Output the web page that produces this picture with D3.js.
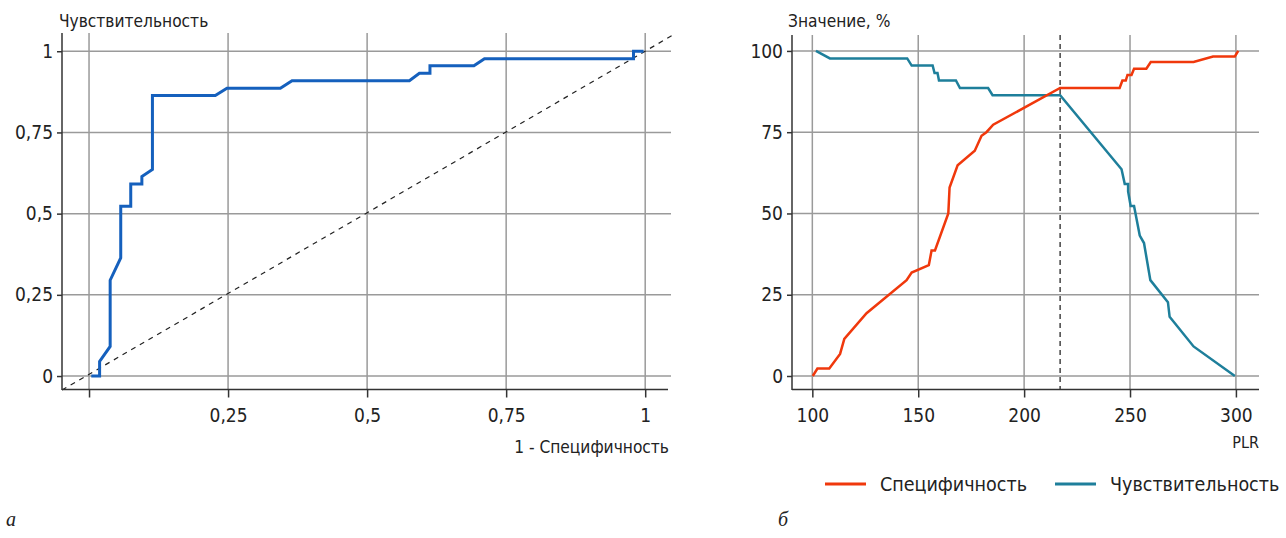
<!DOCTYPE html>
<html><head><meta charset="utf-8">
<script src="https://cdn.jsdelivr.net/npm/d3@7"></script>
<style>
body{margin:0;background:#fff;}
svg text{font-family:"Liberation Sans Narrow","DejaVu Sans Condensed","Roboto",sans-serif;fill:#222;}
</style></head>
<body><svg id="c" width="1286" height="538"></svg>
<script>
// ROC curve (1 - specificity, sensitivity)
const rocFpr  = [0.004,0.019,0.019,0.038,0.038,0.057,0.057,0.075,0.075,0.095,0.095,0.114,0.114,0.227,0.248,0.344,0.365,0.576,0.594,0.613,0.613,0.692,0.711,0.979,0.979,0.997];
const rocSens = [0,0,0.045,0.091,0.295,0.364,0.523,0.523,0.591,0.591,0.614,0.636,0.864,0.864,0.886,0.886,0.909,0.909,0.932,0.932,0.955,0.955,0.977,0.977,1,1];
const rocTicksX = [0.25,0.5,0.75,1];
const rocTicksY = [0,0.25,0.5,0.75,1];
const rocGridX = [0,0.25,0.5,0.75,1];

// PLR panel
const sensPLR = [101.7,108.3,144.8,146.9,156.8,157.7,159.1,159.8,167.8,169.7,183,185.1,217,246,247.5,249.1,249.1,250.3,251.9,254.6,256.6,259.6,267.9,268.7,280,299.5];
const sensVal = [100,97.7,97.7,95.5,95.5,93.2,93.2,90.9,90.9,88.6,88.6,86.4,86.4,63.6,59.1,59.1,56.8,52.3,52.3,43.2,40.9,29.5,22.7,18.2,9.1,0];
const specPLR = [100.2,102.4,108,113.1,115.1,125.6,144.5,146.9,155,156.3,157.9,164.2,164.8,168.6,176.7,179.9,182.2,185.4,217,245.1,246.4,248,248.8,250.7,251.9,257.7,259.8,280,289.2,299.5,301.1];
const specVal = [0,2.3,2.3,6.8,11.4,19.3,29.5,31.8,34.1,38.6,38.6,50,58,64.8,69.3,73.9,75,77.3,88.6,88.6,90.9,90.9,92.6,92.6,94.5,94.5,96.6,96.6,98.3,98.3,100];
const plrTicksX = [100,150,200,250,300];
const plrTicksY = [0,25,50,75,100];
const cutoff = 217;

const svg = d3.select("#c");
const GRID = "#9a9a9a", AXIS = "#333";
const TICK_FS = 19, TITLE_FS = 17.2;
const fmt = v => String(v).replace(".", ",");

function styleAxes(gx, gy){
  [gx,gy].forEach(g=>{g.selectAll("path,line").attr("stroke",AXIS).attr("stroke-width",1.5);
    g.selectAll("text").attr("font-size",TICK_FS).attr("fill","#222").style("font-family",null);});
  gx.selectAll("text").attr("y",0).attr("dy",null).attr("transform","translate(0,32)");
}

// ---------- Left panel ----------
const x1 = d3.scaleLinear().domain([-0.0486,1.041]).range([62,668]);
const y1 = d3.scaleLinear().domain([-0.043,1.05]).range([390,35]);
const g1 = svg.append("g");
g1.selectAll(".vg").data(rocGridX).join("line")
  .attr("x1",d=>x1(d)).attr("x2",d=>x1(d)).attr("y1",33).attr("y2",390)
  .attr("stroke",GRID).attr("stroke-width",1.5);
g1.selectAll(".hg").data(rocTicksY).join("line")
  .attr("x1",62).attr("x2",671).attr("y1",d=>y1(d)).attr("y2",d=>y1(d))
  .attr("stroke",GRID).attr("stroke-width",1.5);
g1.append("line").attr("x1",x1(-0.0486)).attr("y1",y1(-0.043)).attr("x2",672).attr("y2",y1(x1.invert(672)))
  .attr("stroke","#222").attr("stroke-width",1.2).attr("stroke-dasharray","5,5");
const ax1 = d3.axisBottom(x1).tickValues(rocGridX).tickSize(8).tickFormat(d=>rocTicksX.includes(d)?fmt(d):"");
const gx1 = g1.append("g").attr("transform","translate(0,389.5)").call(ax1);
gx1.select(".domain").attr("d","M62,0H668");
const ay1 = d3.axisLeft(y1).tickValues(rocTicksY).tickSize(5).tickPadding(4).tickFormat(fmt);
const gy1 = g1.append("g").attr("transform","translate(62,0)").call(ay1);
gy1.select(".domain").attr("d","M0,33V390");
styleAxes(gx1, gy1);
g1.append("path").datum(rocFpr.map((d,i)=>[d,rocSens[i]]))
  .attr("d",d3.line().x(d=>x1(d[0])).y(d=>y1(d[1])))
  .attr("fill","none").attr("stroke","#1560bd").attr("stroke-width",3).attr("stroke-linejoin","miter");
g1.append("text").attr("x",59).attr("y",27).attr("font-size",TITLE_FS).text("Чувствительность");
g1.append("text").attr("x",669).attr("y",453).attr("text-anchor","end").attr("font-size",TITLE_FS).text("1 - Специфичность");

// ---------- Right panel ----------
const x2 = d3.scaleLinear().domain([90.4,310.9]).range([792,1259]);
const y2 = d3.scaleLinear().domain([-4,104.9]).range([389,35]);
const g2 = svg.append("g");
g2.selectAll(".vg").data(plrTicksX).join("line")
  .attr("x1",d=>x2(d)).attr("x2",d=>x2(d)).attr("y1",35).attr("y2",389)
  .attr("stroke",GRID).attr("stroke-width",1.5);
g2.selectAll(".hg").data(plrTicksY).join("line")
  .attr("x1",792).attr("x2",1259).attr("y1",d=>y2(d)).attr("y2",d=>y2(d))
  .attr("stroke",GRID).attr("stroke-width",1.5);
const ax2 = d3.axisBottom(x2).tickValues(plrTicksX).tickSize(8);
const gx2 = g2.append("g").attr("transform","translate(0,389.5)").call(ax2);
gx2.select(".domain").attr("d","M792,0H1259");
const ay2 = d3.axisLeft(y2).tickValues(plrTicksY).tickSize(5).tickPadding(4);
const gy2 = g2.append("g").attr("transform","translate(792,0)").call(ay2);
gy2.select(".domain").attr("d","M0,35V390");
styleAxes(gx2, gy2);
g2.append("line").attr("x1",x2(cutoff)).attr("x2",x2(cutoff)).attr("y1",35).attr("y2",389)
  .attr("stroke","#444").attr("stroke-width",1.5).attr("stroke-dasharray","5,4");
const line2 = d3.line().x(d=>x2(d[0])).y(d=>y2(d[1]));
g2.append("path").datum(sensPLR.map((d,i)=>[d,sensVal[i]])).attr("d",line2)
  .attr("fill","none").attr("stroke","#1e7f9b").attr("stroke-width",2.5);
g2.append("path").datum(specPLR.map((d,i)=>[d,specVal[i]])).attr("d",line2)
  .attr("fill","none").attr("stroke","#f0380c").attr("stroke-width",2.5);
g2.append("text").attr("x",788).attr("y",27).attr("font-size",TITLE_FS).text("Значение, %");
g2.append("text").attr("x",1259).attr("y",448).attr("text-anchor","end").attr("font-size",16).text("PLR");

// legend
const legend = [{name:"Специфичность",color:"#f0380c",x:825},{name:"Чувствительность",color:"#1e7f9b",x:1055}];
const lg = svg.selectAll(".lg").data(legend).join("g");
lg.append("line").attr("x1",d=>d.x).attr("x2",d=>d.x+41).attr("y1",484).attr("y2",484)
  .attr("stroke",d=>d.color).attr("stroke-width",3);
lg.append("text").attr("x",d=>d.x+55).attr("y",491).attr("font-size",19.5).text(d=>d.name);

// panel letters
svg.append("text").attr("x",6).attr("y",526).attr("font-size",20).attr("font-style","italic")
  .style("font-family","'Liberation Serif','DejaVu Serif',serif").text("а");
svg.append("text").attr("x",778).attr("y",526).attr("font-size",20).attr("font-style","italic")
  .style("font-family","'Liberation Serif','DejaVu Serif',serif").text("б");
</script></body></html>
